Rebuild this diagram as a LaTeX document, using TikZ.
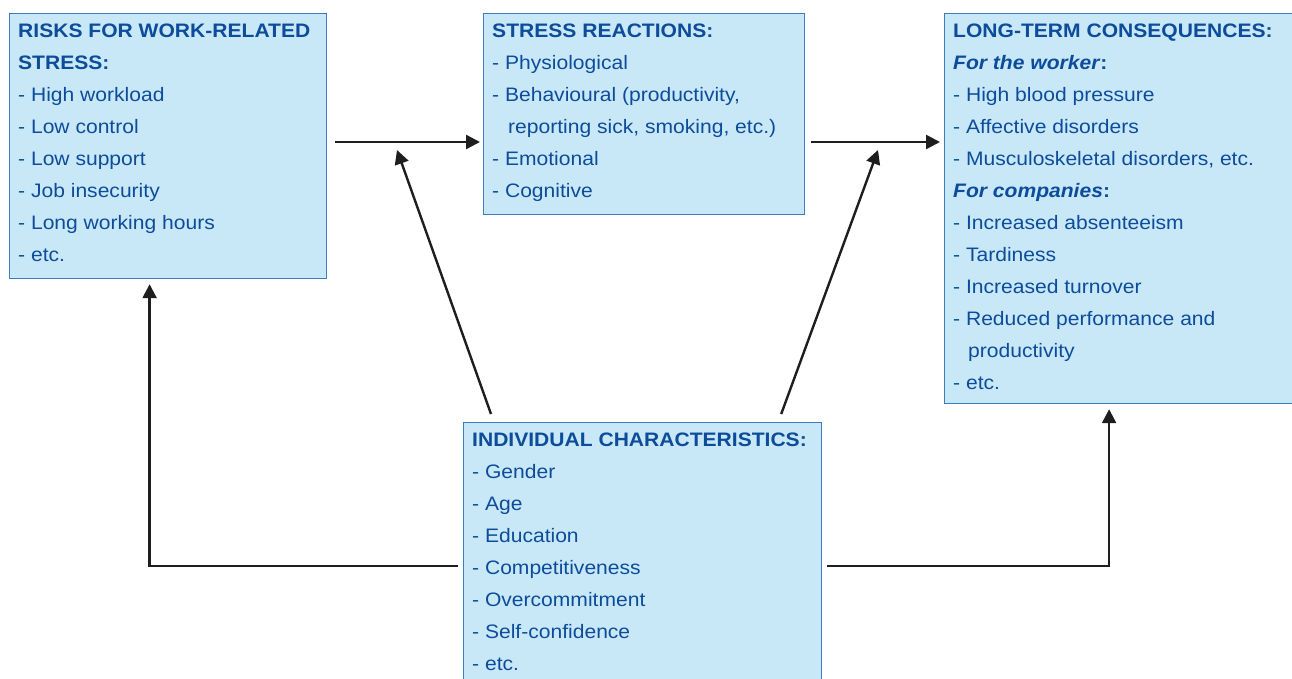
\documentclass[tikz,border=0pt]{standalone}
\usepackage{fontspec}
\setmainfont{Liberation Sans}[FakeStretch=1.08]
\usepackage{tikz}
\usetikzlibrary{arrows.meta}
\definecolor{boxfill}{RGB}{200,232,248}
\definecolor{boxline}{RGB}{58,126,193}
\definecolor{txtblue}{RGB}{12,76,154}
\newcommand{\hd}[1]{\textbf{#1}}
\newcommand{\sub}[1]{\textbf{\textit{#1}}\textbf{:}}
\tikzset{
  box/.style={draw=boxline,fill=boxfill,line width=1.2pt,anchor=north west,inner sep=0pt},
  txt/.style={anchor=north west,align=left,text=txtblue,inner xsep=9pt,inner ysep=1.6pt,
    font=\fontsize{19.5}{32}\selectfont},
  arr/.style={line width=2.4pt,draw={rgb,255:red,30;green,30;blue,30},-{Triangle[length=14pt,width=14pt]}}
}
\begin{document}
\begin{tikzpicture}[x=1pt,y=1pt]
    \useasboundingbox (0,0) rectangle (1292,-679);
    \clip (0,0) rectangle (1292,-679);
    % boxes
    \node[box,minimum width=317pt,minimum height=265pt] (risks) at (9,-13) {};
    \node[box,minimum width=321pt,minimum height=201pt] (react) at (483,-13) {};
    \node[box,minimum width=348pt,minimum height=390pt] (conseq) at (944,-13) {};
    \node[box,minimum width=358pt,minimum height=290pt] (indiv) at (463,-422) {};
    % texts
    \node[txt] (riskstxt) at (risks.north west) {\strut\hd{RISKS FOR WORK-RELATED}\\
      \hd{STRESS:}\\
      - High workload\\
      - Low control\\
      - Low support\\
      - Job insecurity\\
      - Long working hours\\
      - etc.};
    \node[txt] (reacttxt) at (react.north west) {\strut\hd{STRESS REACTIONS:}\\
      - Physiological\\
      - Behavioural (productivity,\\
      \hspace*{16pt}reporting sick, smoking, etc.)\\
      - Emotional\\
      - Cognitive};
    \node[txt] (conseqtxt) at (conseq.north west) {\strut\hd{LONG-TERM CONSEQUENCES:}\\
      \sub{For the worker}\\
      - High blood pressure\\
      - Affective disorders\\
      - Musculoskeletal disorders, etc.\\
      \sub{For companies}\\
      - Increased absenteeism\\
      - Tardiness\\
      - Increased turnover\\
      - Reduced performance and\\
      \hspace*{15pt}productivity\\
      - etc.};
    \node[txt] (indivtxt) at (indiv.north west) {\strut\hd{INDIVIDUAL CHARACTERISTICS:}\\
      - Gender\\
      - Age\\
      - Education\\
      - Competitiveness\\
      - Overcommitment\\
      - Self-confidence\\
      - etc.};
    % moderating points on the main arrows
    \coordinate (mod1) at (397,-150);
    \coordinate (mod2) at (878,-150);
    % connectors
    \draw[arr] ([xshift=8pt,yshift=-129pt]risks.north east)
      -- ([xshift=-3pt,yshift=-129pt]react.north west);
    \draw[arr] ([xshift=6pt,yshift=-129pt]react.north east)
      -- ([xshift=-4pt,yshift=-129pt]conseq.north west);
    \draw[arr] ([xshift=28pt,yshift=8pt]indiv.north west) -- (mod1);
    \draw[arr] ([xshift=-41pt,yshift=8pt]indiv.north east) -- (mod2);
    \draw[arr] ([xshift=-5pt,yshift=-144pt]indiv.north west)
      -| ([xshift=-18.5pt,yshift=-5pt]risks.south);
    \draw[arr] ([xshift=5pt,yshift=-144pt]indiv.north east)
      -| ([xshift=-9.5pt,yshift=-5pt]conseq.south);
\end{tikzpicture}
\end{document}
